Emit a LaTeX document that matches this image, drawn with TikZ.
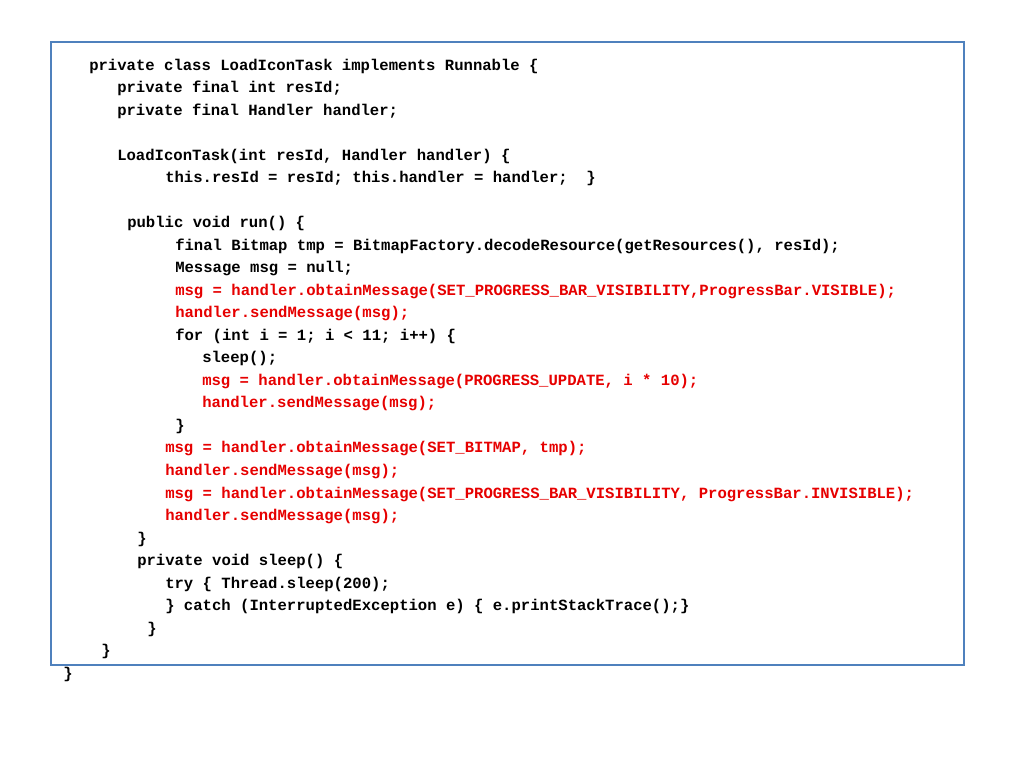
\documentclass[tikz,border=0pt]{standalone}
\usepackage{fontspec}
\setmonofont{Liberation Mono}
\definecolor{frameblue}{RGB}{79,129,189}
\definecolor{codered}{RGB}{230,0,0}
\tikzset{
  code/.style={anchor=west,inner sep=0pt,font=\ttfamily\bfseries\fontsize{11.7pt}{14pt}\selectfont},
  hot/.style={code,text=codered}
}
\begin{document}
\begin{tikzpicture}[x=0.75pt,y=-0.75pt]
  \useasboundingbox (0,0) rectangle (1024,768);
  \draw[frameblue,line width=2.2pt] (51,42) rectangle (964,665);

  \node[code] (l1) at (89,66) {private class LoadIconTask implements Runnable \{};
  \node[code] (l2) at (117,88) {private final int resId;};
  \node[code] (l3) at (117,111) {private final Handler handler;};
  \node[code] (l4) at (117,156) {LoadIconTask(int resId, Handler handler) \{};
  \node[code] (l5) at (165,178) {this.resId = resId; this.handler = handler;~~\}};
  \node[code] (l6) at (127,223) {public void run() \{};
  \node[code] (l7) at (175,246) {final Bitmap tmp = BitmapFactory.decodeResource(getResources(), resId);};
  \node[code] (l8) at (175,268) {Message msg = null;};
  \node[hot] (l9) at (175,291) {msg = handler.obtainMessage(SET\_PROGRESS\_BAR\_VISIBILITY,ProgressBar.VISIBLE);};
  \node[hot] (l10) at (175,313) {handler.sendMessage(msg);};
  \node[code] (l11) at (175,336) {for (int i = 1; i < 11; i++) \{};
  \node[code] (l12) at (202,358) {sleep();};
  \node[hot] (l13) at (202,381) {msg = handler.obtainMessage(PROGRESS\_UPDATE, i * 10);};
  \node[hot] (l14) at (202,403) {handler.sendMessage(msg);};
  \node[code] (l15) at (175,426) {\}};
  \node[hot] (l16) at (165,448) {msg = handler.obtainMessage(SET\_BITMAP, tmp);};
  \node[hot] (l17) at (165,471) {handler.sendMessage(msg);};
  \node[hot] (l18) at (165,494) {msg = handler.obtainMessage(SET\_PROGRESS\_BAR\_VISIBILITY, ProgressBar.INVISIBLE);};
  \node[hot] (l19) at (165,516) {handler.sendMessage(msg);};
  \node[code] (l20) at (137,539) {\}};
  \node[code] (l21) at (137,561) {private void sleep() \{};
  \node[code] (l22) at (165,584) {try \{ Thread.sleep(200);};
  \node[code] (l23) at (165,606) {\} catch (InterruptedException e) \{ e.printStackTrace();\}};
  \node[code] (l24) at (147,629) {\}};
  \node[code] (l25) at (101,651) {\}};
  \node[code] (l26) at (63,674) {\}};
\end{tikzpicture}
\end{document}
